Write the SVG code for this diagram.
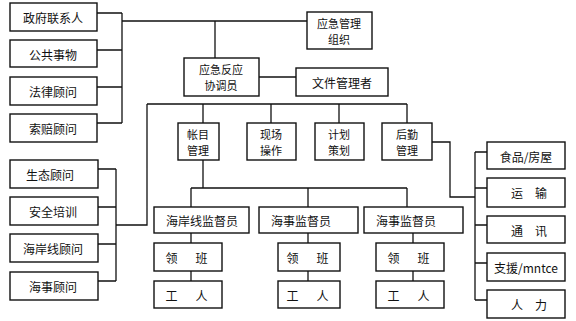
<svg xmlns="http://www.w3.org/2000/svg" width="576" height="321" viewBox="0 0 576 321">
<style>
.box{fill:#fff;stroke:#111;stroke-width:1.4}
.ln{fill:none;stroke:#111;stroke-width:1.3}
text{font-family:"Noto Sans CJK SC","Liberation Serif",serif;font-size:12px;fill:#111;text-anchor:middle;dominant-baseline:central}
text.two{font-size:11px}
</style>
<rect width="576" height="321" fill="#fff"/>
<g id="connectors">
<path class="ln" d="M97,13H122M97,50H122M97,87H122M97,123H122M122,13V123M122,21H307M215,21V58"/>
<path class="ln" d="M259,77H296"/>
<path class="ln" d="M147,104H407M203,104V123M271,104V123M339,104V123M407,104V123"/>
<path class="ln" d="M147,104V225H116M98,169H116M98,207H116M98,244H116M98,281H116M116,169V281"/>
<path class="ln" d="M432,142H450V197H475M475,152V300M475,152H487M475,188H487M475,225H487M475,263H487M475,300H487"/>
<path class="ln" d="M203,160V188M191,188H407M191,188V207M308,188V207M407,188V207"/>
<path class="ln" d="M191,233V243M308,233V243M413,233V243M191,271V281M308,271V281M413,271V281"/>
</g>
<g id="n-zhengfu"><rect class="box" x="10" y="3" width="87" height="28"/><text x="53" y="17">政府联系人</text></g>
<g id="n-gonggong"><rect class="box" x="10" y="40" width="87" height="27"/><text x="53" y="54">公共事物</text></g>
<g id="n-falv"><rect class="box" x="10" y="77" width="87" height="28"/><text x="53" y="91">法律顾问</text></g>
<g id="n-suopei"><rect class="box" x="10" y="114" width="87" height="28"/><text x="53" y="128">索赔顾问</text></g>
<g id="n-yingjiguanli"><rect class="box" x="307" y="12" width="65" height="37"/><text class="two" x="339" y="22.5">应急管理</text><text class="two" x="339" y="38.5">组织</text></g>
<g id="n-xietiao"><rect class="box" x="184" y="58" width="75" height="38"/><text class="two" x="221" y="69">应急反应</text><text class="two" x="221" y="85">协调员</text></g>
<g id="n-wenjian"><rect class="box" x="296" y="68" width="92" height="28"/><text x="342" y="82">文件管理者</text></g>
<g id="n-zhangmu"><rect class="box" x="178" y="123" width="41" height="37"/><text class="two" x="198" y="133.5">帐目</text><text class="two" x="198" y="149.5">管理</text></g>
<g id="n-xianchang"><rect class="box" x="247" y="123" width="49" height="37"/><text class="two" x="271" y="133.5">现场</text><text class="two" x="271" y="149.5">操作</text></g>
<g id="n-jihua"><rect class="box" x="315" y="123" width="49" height="37"/><text class="two" x="339" y="133.5">计划</text><text class="two" x="339" y="149.5">策划</text></g>
<g id="n-houqin"><rect class="box" x="382" y="123" width="50" height="37"/><text class="two" x="407" y="133.5">后勤</text><text class="two" x="407" y="149.5">管理</text></g>
<g id="n-shengtai"><rect class="box" x="10" y="160" width="88" height="28"/><text x="50" y="174">生态顾问</text></g>
<g id="n-anquan"><rect class="box" x="10" y="197" width="88" height="28"/><text x="53" y="211">安全培训</text></g>
<g id="n-haianxian"><rect class="box" x="10" y="234" width="88" height="28"/><text x="53" y="248">海岸线顾问</text></g>
<g id="n-haishi"><rect class="box" x="10" y="272" width="88" height="28"/><text x="53" y="286">海事顾问</text></g>
<g id="n-shipin"><rect class="box" x="487" y="142" width="78" height="27"/><text x="526" y="156">食品/房屋</text></g>
<g id="n-yunshu"><rect class="box" x="487" y="178" width="78" height="29"/><text x="529" y="192">运　输</text></g>
<g id="n-tongxun"><rect class="box" x="487" y="216" width="78" height="27"/><text x="529" y="230">通　讯</text></g>
<g id="n-zhiyuan"><rect class="box" x="487" y="253" width="78" height="28"/><text x="526" y="267">支援/mntce</text></g>
<g id="n-renli"><rect class="box" x="487" y="290" width="78" height="28"/><text x="529" y="304">人　力</text></g>
<g id="n-sup1"><rect class="box" x="154" y="207" width="95" height="26"/><text x="202" y="220">海岸线监督员</text></g>
<g id="n-sup2"><rect class="box" x="259" y="207" width="99" height="26"/><text x="301" y="220">海事监督员</text></g>
<g id="n-sup3"><rect class="box" x="364" y="207" width="99" height="26"/><text x="406" y="220">海事监督员</text></g>
<g id="n-lingban1"><rect class="box" x="154" y="243" width="68" height="28"/><text x="188" y="257" letter-spacing="3">领　班</text></g>
<g id="n-lingban2"><rect class="box" x="278" y="243" width="62" height="28"/><text x="309" y="257" letter-spacing="3">领　班</text></g>
<g id="n-lingban3"><rect class="box" x="376" y="243" width="68" height="28"/><text x="410" y="257" letter-spacing="3">领　班</text></g>
<g id="n-gongren1"><rect class="box" x="154" y="281" width="68" height="27"/><text x="188" y="295" letter-spacing="3">工　人</text></g>
<g id="n-gongren2"><rect class="box" x="278" y="281" width="62" height="27"/><text x="309" y="295" letter-spacing="3">工　人</text></g>
<g id="n-gongren3"><rect class="box" x="376" y="281" width="68" height="27"/><text x="410" y="295" letter-spacing="3">工　人</text></g>
</svg>
